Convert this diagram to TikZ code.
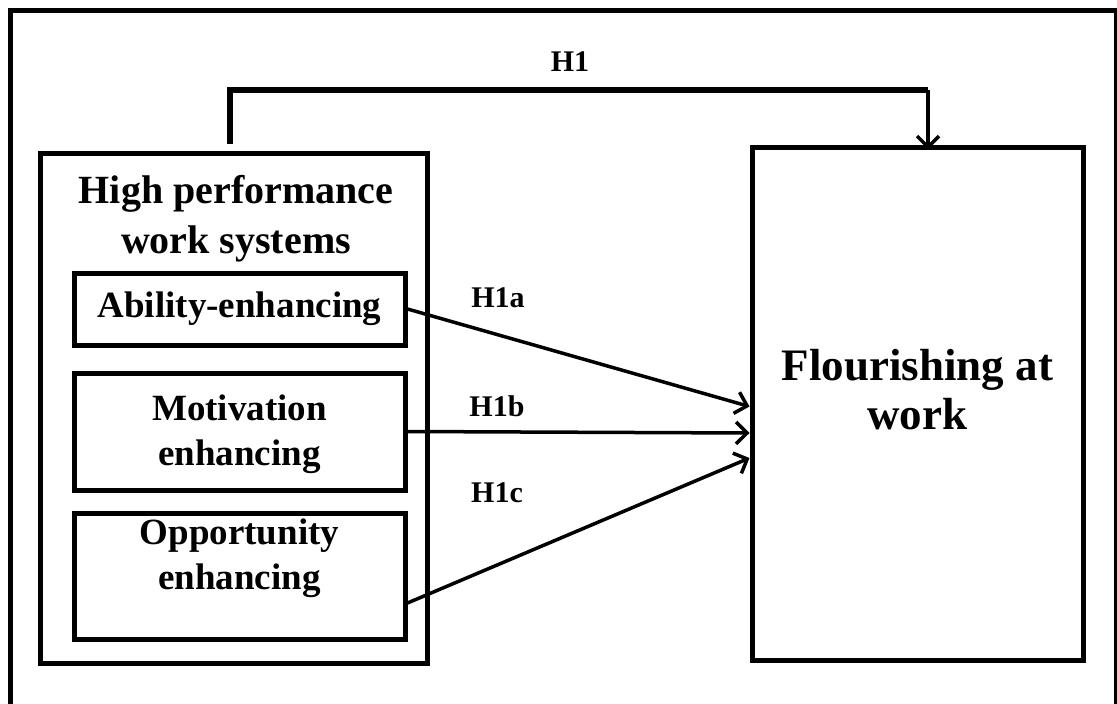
\documentclass[tikz,border=0pt]{standalone}
\usepackage{fontspec}
\setmainfont{Liberation Serif}
\usepackage{tikz}
\usetikzlibrary{arrows.meta}

\begin{document}
\begin{tikzpicture}[x=1pt, y=-1pt,
        box/.style={draw, line width=5pt, inner sep=0pt},
        boxtext/.style={align=center, font=\bfseries\fontsize{37}{45}\selectfont},
        hyp/.style={font=\bfseries\fontsize{30}{32}\selectfont},
        arr/.style={line width=3.5pt, -{Straight Barb[length=11pt, width=22pt, line width=3.5pt]}}]
        \useasboundingbox (0,0) rectangle (1117,704);
        % outer frame
        \draw[line width=5pt] (10,720) -- (10,10) -- (1116,10) -- (1116,720);

        \node[box, minimum width=387, minimum height=510] (hpws) at (233.5,408) {};
        \node[boxtext, font=\bfseries\fontsize{40}{50}\selectfont] (hpwstitle) at (236,219) {High performance\\work systems};
        \node[box, minimum width=331, minimum height=72] (ability) at (239.5,309) {};
        \node[boxtext] (abilitytext) at (239.5,309) {Ability-enhancing};
        \node[box, minimum width=331, minimum height=117] (motivation) at (239.5,431.5) {};
        \node[boxtext] (motivationtext) at (239.5,434) {Motivation\\enhancing};
        \node[box, minimum width=331, minimum height=126] (opportunity) at (239.5,576) {};
        \node[boxtext] (opportunitytext) at (239.5,558) {Opportunity\\enhancing};
        \node[box, minimum width=331, minimum height=513] (flourish) at (917.5,403.5) {};
        \node[boxtext, font=\bfseries\fontsize{45}{49}\selectfont] (flourishtext) at (917.5,390) {Flourishing at\\work};

        \coordinate (h1corner) at (928,90);
        \draw[line width=6pt] ([xshift=-3.5pt, yshift=7pt]hpws.north) |- (h1corner);
        \draw[arr] (h1corner) -- ([xshift=10.5pt, yshift=-5pt]flourish.north);
        \node[hyp] (h1) at (570,62) {H1};

        \draw[arr] (ability.east) -- ([yshift=-3pt]flourish.west);
        \draw[arr] (motivation.east) -- ([yshift=-29.5pt]flourish.west);
        \draw[arr] ([yshift=-27pt]opportunity.east) -- ([yshift=-54.5pt]flourish.west);
        \node[hyp] (h1a) at (498,298) {H1a};
        \node[hyp] (h1b) at (497,406) {H1b};
        \node[hyp] (h1c) at (497,493) {H1c};
\end{tikzpicture}
\end{document}
